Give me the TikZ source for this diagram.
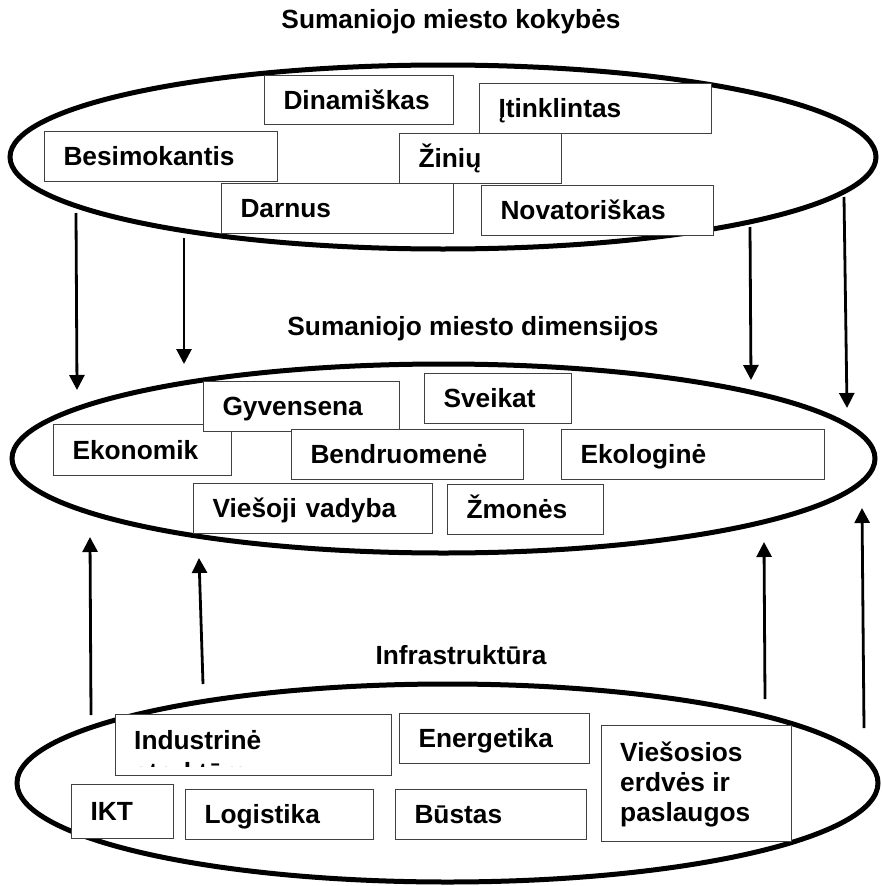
\documentclass[tikz,border=0pt]{standalone}
\usepackage{fontspec}
\setmainfont{Liberation Sans}[BoldFont={Liberation Sans Bold}]
\usetikzlibrary{shapes.geometric,arrows.meta}
\definecolor{boxgray}{gray}{0.25}
\newcommand{\labfont}{\bfseries\fontsize{26.3}{30.5}\selectfont}
\begin{document}
\begin{tikzpicture}[x=1pt,y=-1pt,
  ell/.style={ellipse, draw, line width=5pt, inner sep=0pt},
  bx/.style={rectangle, draw=boxgray, line width=1pt, fill=white, anchor=north west,
    inner xsep=19pt, inner ysep=0pt, font=\labfont, align=left,
    text height=18.5pt, text depth=0pt},
  ebx/.style={rectangle, draw=boxgray, line width=1pt, fill=white, anchor=north west, inner sep=0pt},
  txt/.style={font=\labfont, anchor=base west, inner sep=0pt},
  ttl/.style={font=\labfont, anchor=base, inner sep=0pt},
  arr/.style={line width=2.8pt, -{Triangle[length=15pt,width=15pt]}},
]
\useasboundingbox (0,0) rectangle (881,886);

% ellipses
\node[ell, minimum width=866pt, minimum height=184pt] (etop) at (443,157) {};
\node[ell, minimum width=863pt, minimum height=189pt] (emid) at (443.5,458.5) {};
\node[ell, minimum width=861pt, minimum height=198pt] (ebot) at (447.5,783) {};

% titles
\node[ttl] (t1) at (451,28) {Sumaniojo miesto kokybės};
\node[ttl] (t2) at (473,335) {Sumaniojo miesto dimensijos};
\node[ttl] (t3) at (461,664) {Infrastruktūra};

% top boxes
\node[bx, minimum width=189pt, minimum height=49pt, text width=151pt] (din) at (264,75) {Dinamiškas};
\node[bx, minimum width=232pt, minimum height=50pt, text width=194pt] (itk) at (479,83) {Įtinklintas};
\node[bx, minimum width=233pt, minimum height=50pt, text width=195pt] (bes) at (44,131) {Besimokantis};
\node[bx, minimum width=162pt, minimum height=50pt, text width=124pt] (zin) at (399,133) {Žinių};
\node[bx, minimum width=232pt, minimum height=50pt, text width=194pt] (dar) at (221,183) {Darnus};
\node[bx, minimum width=232pt, minimum height=50pt, text width=194pt] (nov) at (481,185) {Novatoriškas};

% middle boxes
\node[bx, minimum width=178pt, minimum height=51pt, text width=140pt] (eko) at (53,424) {Ekonomik};
\node[bx, minimum width=196pt, minimum height=50pt, text width=158pt] (gyv) at (203,381) {Gyvensena};
\node[bx, minimum width=147pt, minimum height=50pt, text width=109pt] (sve) at (424,373) {Sveikat};
\node[bx, minimum width=232pt, minimum height=50pt, text width=194pt] (ben) at (291,429) {Bendruomenė};
\node[bx, minimum width=263pt, minimum height=50pt, text width=225pt] (ekl) at (561,429) {Ekologinė};
\node[bx, minimum width=239pt, minimum height=50pt, text width=201pt] (vie) at (193,483) {Viešoji vadyba};
\node[bx, minimum width=156pt, minimum height=50pt, text width=118pt] (zmo) at (447,484) {Žmonės};

% bottom boxes
\node[ebx, minimum width=276pt, minimum height=61pt] (ind) at (115,714) {};
\node[txt] (indA) at (134,749) {Industrinė};
\begin{scope}
  \clip (116,715) rectangle (390,766);
  \node[txt] (indB) at (134,781) {struktūra};
\end{scope}
\node[bx, minimum width=190pt, minimum height=50pt, text width=152pt] (ene) at (399,713) {Energetika};
\node[bx, minimum width=102pt, minimum height=54pt, text width=64pt] (ikt) at (71,784) {IKT};
\node[bx, minimum width=188pt, minimum height=50pt, text width=150pt] (log) at (185,789) {Logistika};
\node[bx, minimum width=191pt, minimum height=50pt, text width=153pt] (bus) at (395,789) {Būstas};
\node[ebx, minimum width=190pt, minimum height=116pt] (ves) at (601,725) {};
\node[txt] (vesA) at (620,761) {Viešosios};
\node[txt] (vesB) at (620,791) {erdvės ir};
\node[txt] (vesC) at (620,821) {paslaugos};

% arrows down
\coordinate (d1s) at (76,213);  \coordinate (d1e) at (77,390);
\coordinate (d2s) at (184,238); \coordinate (d2e) at (184,364);
\coordinate (d3s) at (750,227); \coordinate (d3e) at (751,380);
\coordinate (d4s) at (844,197); \coordinate (d4e) at (847,408);
\draw[arr] (d1s) -- (d1e);
\draw[arr] (d2s) -- (d2e);
\draw[arr] (d3s) -- (d3e);
\draw[arr] (d4s) -- (d4e);

% arrows up
\coordinate (u1s) at (91,715);  \coordinate (u1e) at (90,537);
\coordinate (u2s) at (203,684); \coordinate (u2e) at (199,558);
\coordinate (u3s) at (765,699); \coordinate (u3e) at (764,542);
\coordinate (u4s) at (864,728); \coordinate (u4e) at (862,508);
\draw[arr] (u1s) -- (u1e);
\draw[arr] (u2s) -- (u2e);
\draw[arr] (u3s) -- (u3e);
\draw[arr] (u4s) -- (u4e);
\end{tikzpicture}
\end{document}
